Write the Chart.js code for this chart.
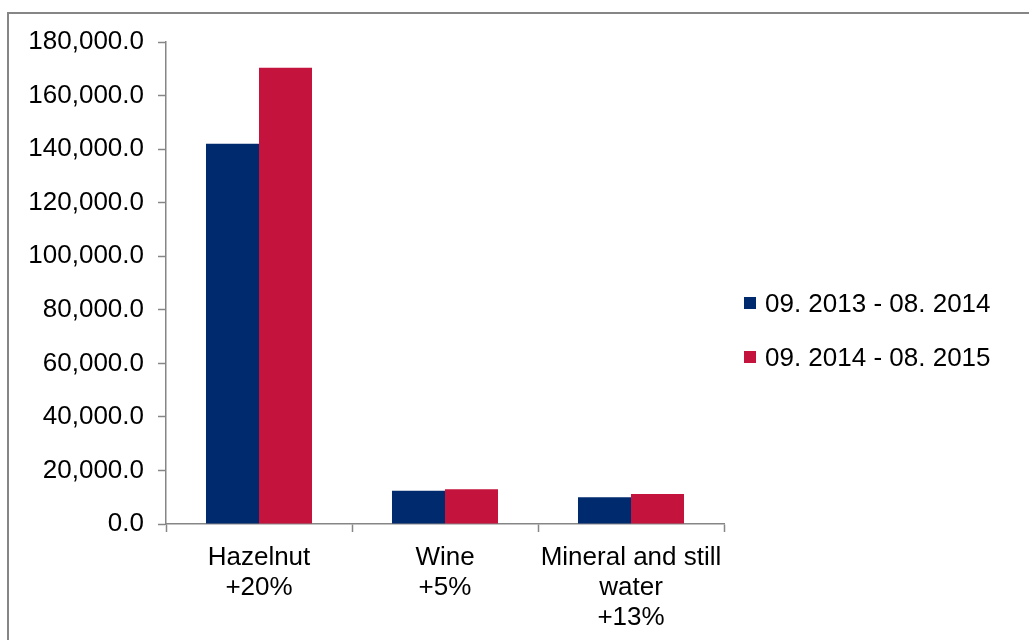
<!DOCTYPE html>
<html>
<head>
<meta charset="utf-8">
<title>Imports by product</title>
<script src="https://cdn.jsdelivr.net/npm/chart.js@4.4.1/dist/chart.umd.min.js"></script>
<style>
    html, body { margin: 0; padding: 0; background: #fff; overflow: hidden; }
    #wrap { position: relative; width: 1029px; height: 640px; }
    #frame {
        position: absolute; left: 7px; top: 12px; width: 1040px; height: 700px;
        border: 2px solid #868686; box-sizing: border-box; pointer-events: none;
    }
    #chart { position: absolute; left: 0; top: 0; }
    /* HTML legend on the right */
    #legend {
        position: absolute; left: 744px; top: 290px;
        margin: 0; padding: 0; list-style: none;
        font-family: "Liberation Sans", Arial, sans-serif; font-size: 26px; color: #000;
    }
    #legend li { display: flex; align-items: center; height: 26px; margin-bottom: 28px; white-space: nowrap; }
    #legend .box { display: inline-block; width: 12px; height: 12px; margin-right: 9px; }
</style>
</head>
<body>
<div id="wrap">
    <div id="frame"></div>
    <canvas id="chart" width="1029" height="640"></canvas>
    <ul id="legend"></ul>
</div>
<script>
// Chart data
const categories = [
    ['Hazelnut', '+20%'],
    ['Wine', '+5%'],
    ['Mineral and still', 'water', '+13%']
];
const seriesLabels = ['09. 2013 - 08. 2014', '09. 2014 - 08. 2015'];
const values2014 = [142000, 12400, 9950];
const values2015 = [170400, 13000, 11200];
const yTicks = [0, 20000, 40000, 60000, 80000, 100000, 120000, 140000, 160000, 180000];

const axisColor = '#868686';
const fontFamily = '"Liberation Sans", Arial, sans-serif';

// Format like 180,000.0
const formatTick = (num) => num.toLocaleString('en-US', { minimumFractionDigits: 1, maximumFractionDigits: 1 });

// Builds the legend as HTML from the chart's own legend items
const htmlLegendPlugin = {
    id: 'htmlLegend',
    afterUpdate(chart) {
        const list = document.getElementById('legend');
        list.innerHTML = '';
        const items = chart.options.plugins.legend.labels.generateLabels(chart);
        items.forEach(item => {
            const li = document.createElement('li');
            const box = document.createElement('span');
            box.className = 'box';
            box.style.background = item.fillStyle;
            li.appendChild(box);
            li.appendChild(document.createTextNode(item.text));
            list.appendChild(li);
        });
    }
};

const ctx = document.getElementById('chart').getContext('2d');

new Chart(ctx, {
    type: 'bar',
    data: {
        labels: categories,
        datasets: [
            {
                label: seriesLabels[0],
                data: values2014,
                backgroundColor: '#002a6e',
                borderWidth: 0
            },
            {
                label: seriesLabels[1],
                data: values2015,
                backgroundColor: '#c4133c',
                borderWidth: 0
            }
        ]
    },
    options: {
        responsive: false,
        animation: false,
        devicePixelRatio: 1,
        layout: {
            padding: { top: 42, bottom: 5, left: 27, right: 305 }
        },
        datasets: {
            bar: {
                categoryPercentage: 0.57,
                barPercentage: 1.0
            }
        },
        plugins: {
            tooltip: { enabled: false },
            legend: { display: false }
        },
        scales: {
            x: {
                grid: {
                    offset: true,
                    drawOnChartArea: false,
                    drawTicks: true,
                    tickLength: 8,
                    tickColor: axisColor,
                    tickWidth: 1.5
                },
                border: { color: axisColor, width: 1.5 },
                ticks: {
                    color: '#000',
                    padding: 11,
                    maxRotation: 0,
                    autoSkip: false,
                    font: { family: fontFamily, size: 26, lineHeight: 1.15 }
                },
                afterFit: (scale) => { scale.height = 111; }
            },
            y: {
                min: 0,
                max: 180000,
                afterBuildTicks: (scale) => {
                    scale.ticks = yTicks.map(v => ({ value: v }));
                },
                grid: {
                    drawOnChartArea: false,
                    drawTicks: true,
                    tickLength: 8,
                    tickColor: axisColor,
                    tickWidth: 1.5
                },
                border: { color: axisColor, width: 1.5 },
                ticks: {
                    color: '#000',
                    padding: 14,
                    font: { family: fontFamily, size: 26 },
                    callback: (value) => formatTick(value)
                },
                afterFit: (scale) => { scale.width = 139; }
            }
        }
    },
    plugins: [htmlLegendPlugin]
});
</script>
</body>
</html>
